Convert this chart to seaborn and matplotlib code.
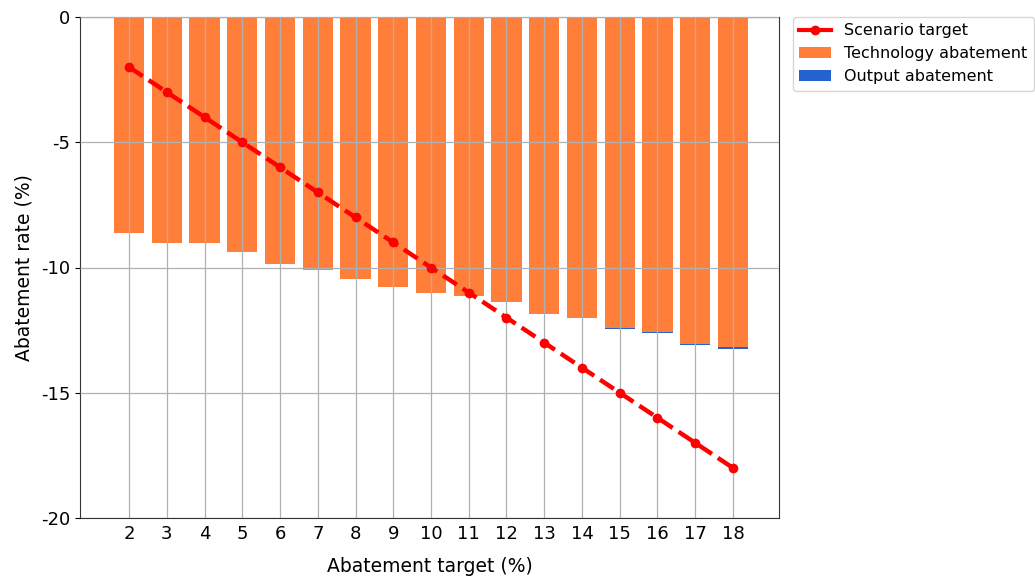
import matplotlib
matplotlib.use("Agg")
import matplotlib.pyplot as plt
import seaborn as sns
import pandas as pd
from matplotlib.patches import Patch
from matplotlib.lines import Line2D

targets = [2, 3, 4, 5, 6, 7, 8, 9, 10, 11, 12, 13, 14, 15, 16, 17, 18]
scenario = [-2, -3, -4, -5, -6, -7, -8, -9, -10, -11, -12, -13, -14, -15, -16, -17, -18]
tech_abatement = [-8.62, -9.03, -9.01, -9.39, -9.85, -10.11, -10.45, -10.77, -11.03,
                  -11.12, -11.38, -11.86, -12.03, -12.43, -12.58, -13.05, -13.19]
output_abatement = [0, 0, 0, 0, 0, 0, 0, 0, 0,
                    0, 0, 0, 0, -0.04, -0.04, -0.05, -0.07]

ORANGE = "#ff7f3a"
BLUE = "#2463cf"
RED = "#ff0000"

plt.rcParams["font.family"] = ["DejaVu Sans"]
plt.rcParams["axes.unicode_minus"] = False

df = pd.DataFrame({
    "target": targets,
    "scenario": scenario,
    "tech": tech_abatement,
    "total": [t + o for t, o in zip(tech_abatement, output_abatement)],
})

fig = plt.figure(figsize=(10.35, 5.77), dpi=100)
ax = fig.add_axes([80 / 1035, 1 - 518 / 577, (779 - 80) / 1035, (518 - 17) / 577])

sns.barplot(data=df, x="target", y="total", native_scale=True, color=BLUE,
            saturation=1, width=0.8, ax=ax, zorder=1)
sns.barplot(data=df, x="target", y="tech", native_scale=True, color=ORANGE,
            saturation=1, width=0.8, ax=ax, zorder=1)
sns.lineplot(data=df, x="target", y="scenario", color=RED, linestyle="--",
             linewidth=3.2, marker="o", markersize=7, markeredgewidth=0,
             ax=ax, zorder=3)

ax.set_axisbelow(False)
ax.grid(True, color="#b0b0b0", linewidth=0.9, zorder=2)
ax.set_xlim(0.7, 19.22)
ax.set_ylim(-20, 0)
ax.set_xticks(targets)
ax.set_xticklabels([str(t) for t in targets])
ax.set_yticks([0, -5, -10, -15, -20])
ax.set_yticklabels(["0", "-5", "-10", "-15", "-20"])
ax.tick_params(axis="both", labelsize=13, length=3.5)
ax.tick_params(axis="x", length=0, pad=5)
ax.set_xlabel("Abatement target (%)", fontsize=13.5, labelpad=10)
ax.set_ylabel("Abatement rate (%)", fontsize=13.5, labelpad=5)
for s in ax.spines.values():
    s.set_color("#333333")

handles = [
    Line2D([0], [0], color=RED, linewidth=3, marker="o", markersize=6),
    Patch(facecolor=ORANGE),
    Patch(facecolor=BLUE),
]
labels = ["Scenario target", "Technology abatement", "Output abatement"]
ax.legend(handles, labels, loc="upper left", bbox_to_anchor=(1.02, 1.0),
          fontsize=11.5, frameon=True, borderaxespad=0)

fig.savefig("out.png", dpi=100)
